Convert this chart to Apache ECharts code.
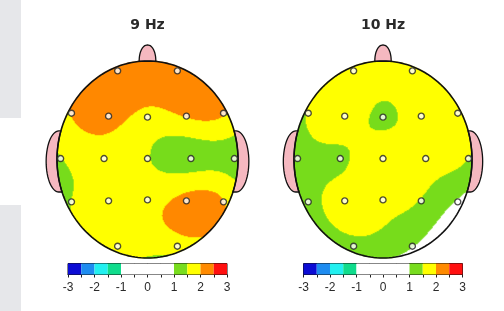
<!DOCTYPE html>
<html><head><meta charset="utf-8">
<script src="https://cdn.jsdelivr.net/npm/echarts@6/dist/echarts.min.js"></script>
<style>html,body{margin:0;padding:0;background:#fff}#c{width:504px;height:311px}</style>
</head><body><div id="c"></div>
<script>
// ---------- data ----------
const titles = ['9 Hz', '10 Hz'];
const electrodes = ['Fp1','Fp2','F7','F3','Fz','F4','F8','T3','C3','Cz','C4','T4','T5','P3','Pz','P4','T6','O1','O2'];
// electrode positions on the unit head (x right, y toward nose)
const electrodeX = [-0.33, 0.33, -0.84, -0.43, 0, 0.43, 0.84, -0.96, -0.48, 0, 0.48, 0.96, -0.84, -0.43, 0, 0.43, 0.84, -0.33, 0.33];
const electrodeY = [0.90, 0.90, 0.47, 0.44, 0.43, 0.44, 0.47, 0.01, 0.01, 0.01, 0.01, 0.01, -0.43, -0.42, -0.41, -0.42, -0.43, -0.88, -0.88];
const values9Hz  = [2.3, 2.3, 2.02, 2.2, 1.85, 2.03, 2.05, 1.48, 1.75, 1.53, 1.3, 1.3, 1.5, 1.75, 1.8, 2.17, 2.03, 1.75, 1.72];
const values10Hz = [1.7, 1.7, 1.55, 1.76, 1.43, 1.75, 1.7, 1.2, 1.44, 1.78, 1.65, 1.5, 1.25, 1.7, 1.6, 1.48, 0.95, 1.3, 1.03];
const levelEdges = [-3, -2.5, -2, -1.5, -1, -0.5, 0, 0.5, 1, 1.5, 2, 2.5, 3];
const levelColors = ['#0c0cd4','#1e8cf0','#22f0f0','#10dc8c','#ffffff','#ffffff','#ffffff','#ffffff','#78dc1e','#ffff00','#ff8a00','#ff1010'];
const colorbarTicks = [-3, -2, -1, 0, 1, 2, 3];

// ---------- layout ----------
const heads = [
  {cx: 147.5, cy: 159.5, rx: 90.5, ry: 98.5},
  {cx: 383, cy: 159.5, rx: 89, ry: 98.5}
];
const bars = [
  {left: 68, top: 263.5, width: 159, height: 11},
  {left: 303.5, top: 263.5, width: 159, height: 11}
];

// ---------- spherical spline interpolation (topographic map) ----------
function solve(A, b) {
  const n = b.length;
  A = A.map((r, i) => r.concat([b[i]]));
  for (let c = 0; c < n; c++) {
    let p = c;
    for (let r = c + 1; r < n; r++) if (Math.abs(A[r][c]) > Math.abs(A[p][c])) p = r;
    [A[c], A[p]] = [A[p], A[c]];
    for (let r = 0; r < n; r++) {
      if (r === c) continue;
      const f = A[r][c] / A[c][c];
      for (let k = c; k <= n; k++) A[r][k] -= f * A[c][k];
    }
  }
  return A.map((row, i) => row[n] / row[i]);
}
function makeInterpolant(vals) {
  const n = vals.length, m = 4, NT = 40;
  const to3 = (x, y) => {
    const th = Math.hypot(x, y) * Math.PI / 2, ph = Math.atan2(y, x);
    return [Math.sin(th) * Math.cos(ph), Math.sin(th) * Math.sin(ph), Math.cos(th)];
  };
  const E = electrodeX.map((x, i) => to3(x, electrodeY[i]));
  const coef = [];
  for (let k = 1; k <= NT; k++) coef.push((2 * k + 1) / Math.pow(k * (k + 1), m) / (4 * Math.PI));
  const g = c => {
    let p0 = 1, p1 = c, s = coef[0] * p1;
    for (let k = 1; k < NT; k++) { const p2 = ((2 * k + 1) * c * p1 - k * p0) / (k + 1); p0 = p1; p1 = p2; s += coef[k] * p1; }
    return s;
  };
  const dot = (a, b) => Math.max(-1, Math.min(1, a[0] * b[0] + a[1] * b[1] + a[2] * b[2]));
  const A = [];
  for (let i = 0; i < n; i++) { A.push([]); for (let j = 0; j < n; j++) A[i].push(g(dot(E[i], E[j]))); A[i].push(1); }
  A.push(new Array(n).fill(1).concat([0]));
  const w = solve(A, vals.concat([0]));
  return (x, y) => { const P = to3(x, y); let s = w[n]; for (let i = 0; i < n; i++) s += w[i] * g(dot(P, E[i])); return s; };
}

function buildField(vals, head) {
  const f = makeInterpolant(vals);
  const N = Math.round(head.rx * 2), M = Math.round(head.ry * 2);
  const data = [];
  for (let i = 0; i < N; i++) {
    const x = -1 + (i + 0.5) * 2 / N;
    for (let j = 0; j < M; j++) {
      const y = -1 + (j + 0.5) * 2 / M;
      if (x * x + y * y <= 1) data.push([i, j, f(x, y)]);
    }
  }
  return {N, M, data};
}

// ---------- head shapes (decoration) ----------
function circlePts() {
  const p = [];
  for (let k = 0; k <= 180; k++) { const t = k / 180 * Math.PI * 2; p.push([Math.cos(t), Math.sin(t)]); }
  return p;
}
function nosePts() {
  const p = [], hw = 0.092, y0 = Math.sqrt(1 - hw * hw), h = 0.168;
  for (let k = 0; k <= 20; k++) { const t = k / 20; p.push([-hw * Math.sqrt(1 - Math.pow(t, 2.2)), y0 + h * t]); }
  for (let k = 20; k >= 0; k--) { const t = k / 20; p.push([hw * Math.sqrt(1 - Math.pow(t, 2.2)), y0 + h * t]); }
  return p;
}
function earPts(side) {
  const p = [], cy = -0.02, a = 0.14, b = 0.31, cx = 0.98;
  for (let k = 0; k <= 30; k++) {
    const t = -Math.PI / 2 + k / 30 * Math.PI;
    p.push([side * (cx + a * Math.cos(t)), cy + b * Math.sin(t)]);
  }
  for (let k = 10; k >= 0; k--) {
    const y = cy - b + k / 10 * 2 * b;
    p.push([side * Math.sqrt(1 - y * y), y]);
  }
  return p;
}
const shapes = [
  {pts: nosePts(), fill: '#f5b8c0', closed: true},
  {pts: earPts(-1), fill: '#f5b8c0', closed: true},
  {pts: earPts(1), fill: '#f5b8c0', closed: true},
  {pts: circlePts(), fill: null, closed: false}
];

// ---------- option ----------
const chart = echarts.init(document.getElementById('c'), null, {renderer: 'canvas'});
const fields = [buildField(values9Hz, heads[0]), buildField(values10Hz, heads[1])];
const grids = [], xAxes = [], yAxes = [], series = [];

heads.forEach((h, k) => {
  const rect = {left: h.cx - h.rx, top: h.cy - h.ry, width: h.rx * 2, height: h.ry * 2};
  grids.push(Object.assign({containLabel: false}, rect));
  const fld = fields[k];
  xAxes.push({type: 'category', gridIndex: k, data: Array.from({length: fld.N}, (_, i) => i), show: false});
  yAxes.push({type: 'category', gridIndex: k, data: Array.from({length: fld.M}, (_, i) => i), show: false});
});
heads.forEach((h, k) => {
  const rect = {left: h.cx - h.rx, top: h.cy - h.ry, width: h.rx * 2, height: h.ry * 2};
  grids.push(Object.assign({containLabel: false}, rect));
  xAxes.push({type: 'value', gridIndex: 2 + k, min: -1, max: 1, show: false});
  yAxes.push({type: 'value', gridIndex: 2 + k, min: -1, max: 1, show: false});
});
bars.forEach((b, k) => {
  grids.push({left: b.left, top: b.top, width: b.width, height: b.height, show: true, borderColor: '#111', borderWidth: 1, containLabel: false});
  xAxes.push({type: 'value', gridIndex: 4 + k, min: colorbarTicks[0], max: colorbarTicks[colorbarTicks.length - 1], interval: 1,
    axisLine: {show: true, lineStyle: {color: '#111', width: 1}},
    axisTick: {show: true, length: 3, lineStyle: {color: '#222'}},
    minorTick: {show: true, splitNumber: 2, length: 3, lineStyle: {color: '#222'}},
    splitLine: {show: false}, minorSplitLine: {show: false},
    axisLabel: {fontSize: 12, color: '#2a2a2a', margin: 7, fontFamily: 'Liberation Sans'}});
  yAxes.push({type: 'value', gridIndex: 4 + k, min: 0, max: 1, show: false});
});

fields.forEach((fld, k) => {
  series.push({type: 'heatmap', xAxisIndex: k, yAxisIndex: k, data: fld.data, progressive: 0, animation: false, emphasis: {disabled: true}});
});
heads.forEach((h, k) => {
  series.push({
    type: 'custom', xAxisIndex: 2 + k, yAxisIndex: 2 + k, clip: false, silent: true,
    data: shapes.map((s, i) => [i]),
    renderItem: (params, api) => {
      const s = shapes[api.value(0)];
      const pts = s.pts.map(p => api.coord(p));
      if (s.closed) return {type: 'polygon', shape: {points: pts}, style: {fill: s.fill, stroke: '#111', lineWidth: 1.3}};
      return {type: 'polyline', shape: {points: pts}, style: {fill: null, stroke: '#111', lineWidth: 1.6}};
    }
  });
  series.push({
    type: 'scatter', xAxisIndex: 2 + k, yAxisIndex: 2 + k, symbol: 'circle', symbolSize: 6, silent: true,
    itemStyle: {color: '#ffffff', borderColor: '#222', borderWidth: 1.4},
    data: electrodes.map((n, i) => [electrodeX[i], electrodeY[i]])
  });
});
bars.forEach((b, k) => {
  series.push({
    type: 'custom', xAxisIndex: 4 + k, yAxisIndex: 4 + k, silent: true,
    data: levelColors.map((c, i) => [levelEdges[i], levelEdges[i + 1], i]),
    encode: {x: [0, 1]},
    renderItem: (params, api) => {
      const p0 = api.coord([api.value(0), 1]), p1 = api.coord([api.value(1), 0]);
      return {type: 'rect', shape: {x: p0[0], y: p0[1], width: p1[0] - p0[0], height: p1[1] - p0[1]}, style: {fill: levelColors[api.value(2)]}};
    }
  });
});

const pieces = levelColors.map((c, i) => {
  const p = {color: c};
  if (i > 0) p.gte = levelEdges[i];
  if (i < levelColors.length - 1) p.lt = levelEdges[i + 1];
  return p;
});

chart.setOption({
  animation: false,
  backgroundColor: '#ffffff',
  grid: grids, xAxis: xAxes, yAxis: yAxes,
  visualMap: {type: 'piecewise', show: false, seriesIndex: [0, 1], dimension: 2, pieces: pieces},
  graphic: [
    {type: 'rect', shape: {x: 0, y: 0, width: 21, height: 118}, style: {fill: '#e6e7ea'}, silent: true},
    {type: 'rect', shape: {x: 0, y: 205, width: 21, height: 106}, style: {fill: '#e6e7ea'}, silent: true},
    ...titles.map((t, k) => ({type: 'text', x: heads[k].cx, y: 25.5, silent: true,
      style: {text: t, fill: '#2a2a2a', font: 'bold 14px "DejaVu Sans"', textAlign: 'center', textVerticalAlign: 'middle'}}))
  ],
  series: series
});
</script></body></html>
